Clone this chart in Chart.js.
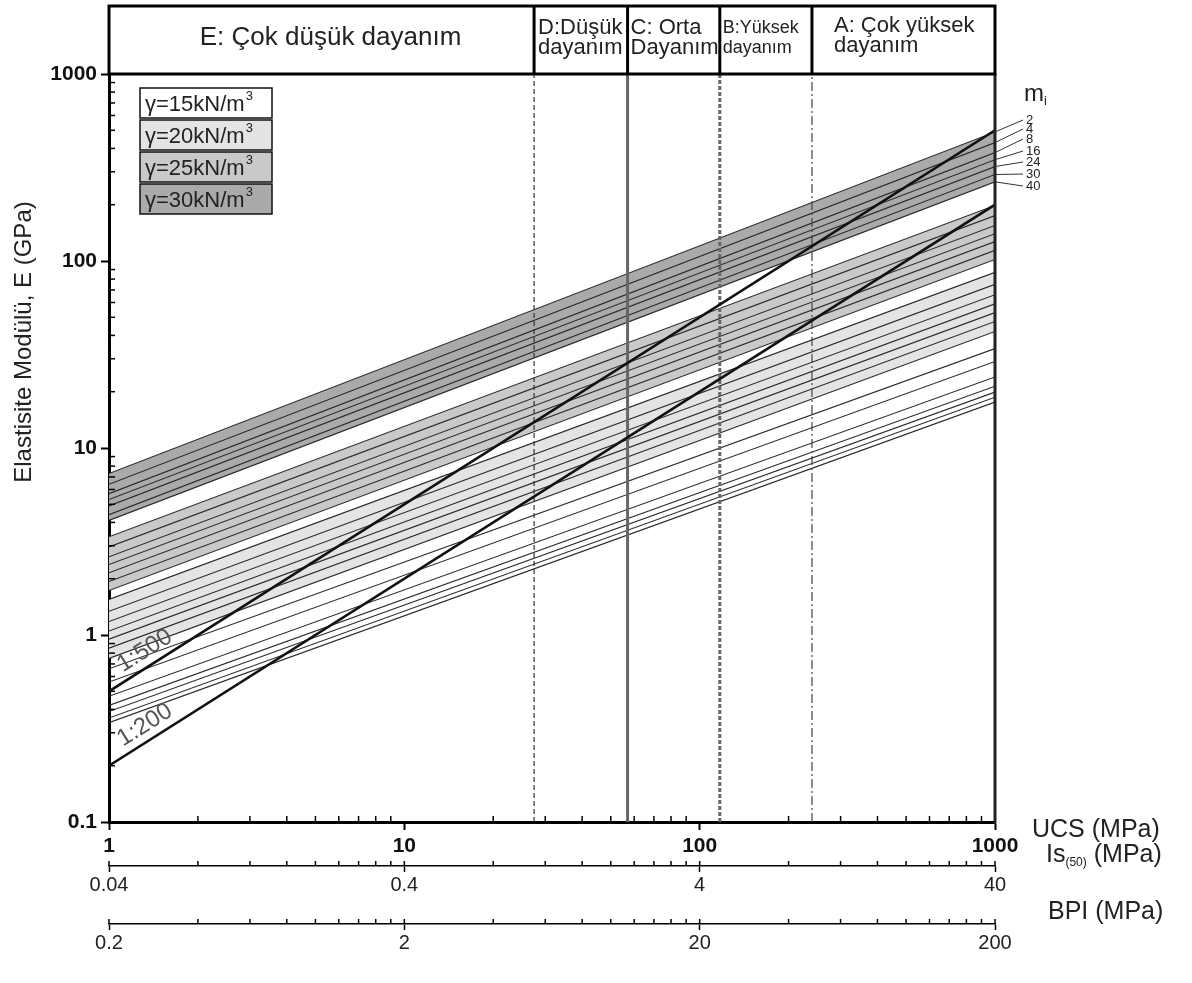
<!DOCTYPE html>
<html>
<head>
<meta charset="utf-8">
<script src="https://cdn.jsdelivr.net/npm/chart.js@4.4.1/dist/chart.umd.min.js"></script>
<style>
  html, body { margin: 0; padding: 0; background: #fff; }
  canvas { display: block; }
</style>
</head>
<body>
<canvas id="chart" width="1192" height="983"></canvas>
<script>
const FONT = "'Liberation Sans', Arial, Helvetica, sans-serif";

// Rock material constant mi for each line of a band
const miValues = [2, 4, 8, 16, 24, 30, 40];
// UCS (MPa) at the two ends of every line
const ucsEnds = [1, 1000];
// Elastic modulus E (GPa) at UCS = 1 MPa and UCS = 1000 MPa, one value per mi
const e15Start = [0.66, 0.56, 0.47, 0.42, 0.39, 0.36, 0.34];
const e15End   = [34, 29, 24, 21.4, 19.9, 18.7, 17.6];
const e20Start = [1.55, 1.34, 1.18, 1.05, 0.95, 0.85, 0.75];
const e20End   = [87, 75, 66, 59, 53, 47.5, 42];
const e25Start = [3.35, 2.96, 2.62, 2.38, 2.15, 1.93, 1.73];
const e25End   = [198, 175, 155, 140, 127, 114, 102];
const e30Start = [7.3, 6.4, 5.7, 5.3, 4.9, 4.4, 4.1];
const e30End   = [490, 430, 380, 348, 320, 290, 265];
const unitWeights = [15, 20, 25, 30];
const bandFills = ['#ffffff', '#e4e4e4', '#c9c9c9', '#aaaaaa'];

// Modulus ratio lines, E (GPa) at UCS = 1 and 1000 MPa
const ratioNames = ['1:500', '1:200'];
const mr500 = [0.5, 500];
const mr200 = [0.2, 200];

// Strength class limits on UCS (MPa) and the class names above the plot
const classBounds = [27.5, 57, 117, 240];
const classNames = [
  ['E: Çok düşük dayanım'],
  ['D:Düşük', 'dayanım'],
  ['C: Orta', 'Dayanım'],
  ['B:Yüksek', 'dayanım'],
  ['A: Çok yüksek', 'dayanım']
];

// Labelled ticks of each axis
const yTickLabels   = ['0.1', '1', '10', '100', '1000'];
const ucsTickLabels = ['1', '10', '100', '1000'];
const isTickLabels  = ['0.04', '0.4', '4', '40'];
const bpiTickLabels = ['0.2', '2', '20', '200'];

const bands = [[e15Start, e15End], [e20Start, e20End], [e25Start, e25End], [e30Start, e30End]];

function labelFor(v, labels) {
  for (const l of labels) {
    if (Math.abs(Math.log10(v) - Math.log10(parseFloat(l))) < 1e-6) return l;
  }
  return '';
}
// 1..9 tick marks for every decade, starting at the first labelled value
function decadeTicks(labels) {
  const out = [];
  const first = parseFloat(labels[0]);
  for (let d = 0; d < labels.length - 1; d++) {
    const base = first * Math.pow(10, d);
    for (let k = 1; k <= 9; k++) out.push(base * k);
  }
  out.push(parseFloat(labels[labels.length - 1]));
  return out;
}

const datasets = [];
// thick ratio lines on top
[mr500, mr200].forEach((r, i) => {
  datasets.push({
    label: ratioNames[i],
    data: [{ x: ucsEnds[0], y: r[0] }, { x: ucsEnds[1], y: r[1] }],
    borderColor: '#111', borderWidth: 2.6, pointRadius: 0, fill: false
  });
});
// strength class limits
const classStyles = [
  { w: 1.2, dash: [5, 3], c: '#333' },
  { w: 3, dash: [], c: '#666' },
  { w: 3, dash: [4, 2], c: '#666' },
  { w: 1.2, dash: [9, 3, 2, 3], c: '#444' }
];
classBounds.forEach((b, i) => {
  datasets.push({
    label: 'class ' + b,
    data: [{ x: b, y: 0.1 }, { x: b, y: 1000 }],
    borderColor: classStyles[i].c, borderWidth: classStyles[i].w,
    borderDash: classStyles[i].dash, pointRadius: 0, fill: false
  });
});
// unit weight bands, one line per mi
bands.forEach((b, bi) => {
  miValues.forEach((mi, k) => {
    const filled = k === 0 && bi > 0;
    datasets.push({
      label: 'γ=' + unitWeights[bi] + ' mi=' + mi,
      data: [{ x: ucsEnds[0], y: b[0][k] }, { x: ucsEnds[1], y: b[1][k] }],
      borderColor: '#2a2a2a', borderWidth: 1.1, pointRadius: 0,
      fill: filled ? '+' + (miValues.length - 1) : false,
      backgroundColor: bandFills[bi]
    });
  });
});

function tickColorFor(labels) {
  return c => (c.tick && labelFor(c.tick.value, labels)) ? '#000' : 'rgba(0,0,0,0)';
}

const bottomAxis = (labels, weight, height) => ({
  type: 'logarithmic',
  axis: 'x',
  position: 'bottom',
  weight: weight,
  min: parseFloat(labels[0]),
  max: parseFloat(labels[labels.length - 1]),
  afterBuildTicks: s => { s.ticks = decadeTicks(labels).map(v => ({ value: v })); },
  afterFit: s => { s.height = height; },
  border: { width: 1.5, color: '#000' },
  grid: { drawOnChartArea: false, tickLength: 6, tickWidth: 1.5, tickColor: tickColorFor(labels) },
  ticks: {
    autoSkip: false, maxRotation: 0, padding: 1, color: '#222',
    font: { family: FONT, size: 20 },
    callback: v => labelFor(v, labels)
  }
});

function line(ctx, x1, y1, x2, y2) {
  ctx.beginPath(); ctx.moveTo(x1, y1); ctx.lineTo(x2, y2); ctx.stroke();
}

// inward minor ticks on the plot axes and upward ticks on the Is(50) / BPI scales
const tickMarks = {
  id: 'tickMarks',
  afterDraw(chart) {
    const { ctx, chartArea: a, scales } = chart;
    ctx.save();
    ctx.strokeStyle = '#000';
    ctx.lineWidth = 1.5;
    scales.y.ticks.forEach(t => {
      if (labelFor(t.value, yTickLabels)) return;
      const py = scales.y.getPixelForValue(t.value);
      line(ctx, a.left, py, a.left + 6, py);
    });
    scales.x.ticks.forEach(t => {
      if (labelFor(t.value, ucsTickLabels)) return;
      const px = scales.x.getPixelForValue(t.value);
      line(ctx, px, a.bottom, px, a.bottom - 6);
    });
    ['is', 'bpi'].forEach(id => {
      const s = scales[id];
      s.ticks.forEach(t => {
        const px = s.getPixelForValue(t.value);
        line(ctx, px, s.top, px, s.top - 5);
      });
    });
    // plot frame: right side
    ctx.lineWidth = 3;
    ctx.strokeStyle = '#222';
    line(ctx, a.right, a.top, a.right, a.bottom + 1.5);
    ctx.restore();
  }
};

// class header above the plot
const classHeader = {
  id: 'classHeader',
  afterDraw(chart) {
    const { ctx, chartArea: a, scales } = chart;
    const top = 6;
    const xs = [a.left].concat(classBounds.map(b => scales.x.getPixelForValue(b)), [a.right]);
    ctx.save();
    ctx.strokeStyle = '#000';
    ctx.lineWidth = 3;
    ctx.strokeRect(a.left, top, a.right - a.left, a.top - top);
    for (let i = 1; i < xs.length - 1; i++) line(ctx, xs[i], top, xs[i], a.top);
    ctx.fillStyle = '#222';
    ctx.textBaseline = 'middle';
    ctx.font = '26px ' + FONT;
    ctx.textAlign = 'center';
    ctx.fillText(classNames[0][0], (xs[0] + xs[1]) / 2 + 9, 38);
    ctx.textAlign = 'left';
    const sizes = [22, 22, 18, 22];
    const offs = [4, 3, 3, 22];
    const rows = [[28, 48], [28, 48], [28, 48], [26, 46]];
    for (let i = 1; i < classNames.length; i++) {
      ctx.font = sizes[i - 1] + 'px ' + FONT;
      classNames[i].forEach((t, j) => ctx.fillText(t, xs[i] + offs[i - 1], rows[i - 1][j]));
    }
    ctx.restore();
  }
};

// unit weight key, ratio labels, mi labels and axis names
const annotations = {
  id: 'annotations',
  afterDraw(chart) {
    const { ctx, chartArea: a, scales } = chart;
    const X = scales.x, Y = scales.y;
    ctx.save();
    // unit weight key
    unitWeights.forEach((g, i) => {
      const bx = 140, by = 88 + i * 32, bw = 132, bh = 30;
      ctx.fillStyle = bandFills[i];
      ctx.fillRect(bx, by, bw, bh);
      ctx.strokeStyle = '#111';
      ctx.lineWidth = 1.5;
      ctx.strokeRect(bx, by, bw, bh);
      ctx.fillStyle = '#222';
      ctx.textBaseline = 'middle';
      ctx.textAlign = 'left';
      ctx.font = '22px ' + FONT;
      const t = 'γ=' + g + 'kN/m';
      ctx.fillText(t, bx + 5, by + bh / 2 + 2);
      const w = ctx.measureText(t).width;
      ctx.font = '13px ' + FONT;
      ctx.fillText('3', bx + 5 + w + 1, by + 8);
    });
    // ratio labels along their lines
    [mr500, mr200].forEach((r, i) => {
      const p0x = X.getPixelForValue(ucsEnds[0]), p0y = Y.getPixelForValue(r[0]);
      const p1x = X.getPixelForValue(ucsEnds[1]), p1y = Y.getPixelForValue(r[1]);
      const ang = Math.atan2(p1y - p0y, p1x - p0x);
      ctx.save();
      ctx.translate(p0x + 22 * Math.cos(ang), p0y + 22 * Math.sin(ang));
      ctx.rotate(ang);
      ctx.fillStyle = '#555';
      ctx.font = '24px ' + FONT;
      ctx.textAlign = 'left';
      ctx.textBaseline = 'bottom';
      ctx.fillText(ratioNames[i], 0, -3);
      ctx.restore();
    });
    // mi labels with leaders from the γ=30 lines
    ctx.fillStyle = '#222';
    ctx.font = '24px ' + FONT;
    ctx.textAlign = 'left';
    ctx.textBaseline = 'middle';
    ctx.fillText('m', 1024, 94);
    ctx.font = '13px ' + FONT;
    ctx.fillText('i', 1044, 101);
    const labelY = [120, 129, 139, 151, 162, 174, 186];
    ctx.strokeStyle = '#333';
    ctx.lineWidth = 1;
    ctx.font = '13px ' + FONT;
    miValues.forEach((mi, k) => {
      const ey = Y.getPixelForValue(e30End[k]);
      line(ctx, a.right, ey, 1023, labelY[k]);
      ctx.fillText(String(mi), 1026, labelY[k]);
    });
    // axis names
    ctx.fillStyle = '#222';
    ctx.font = '25px ' + FONT;
    ctx.fillText('UCS (MPa)', 1032, 830);
    const isTop = scales.is.top, bpiTop = scales.bpi.top;
    ctx.fillText('Is', 1046, isTop - 11);
    const w = ctx.measureText('Is').width;
    ctx.font = '12px ' + FONT;
    ctx.fillText('(50)', 1046 + w, isTop - 3);
    const w2 = ctx.measureText('(50)').width;
    ctx.font = '25px ' + FONT;
    ctx.fillText(' (MPa)', 1046 + w + w2, isTop - 11);
    ctx.fillText('BPI (MPa)', 1048, bpiTop - 12);
    // y axis title
    ctx.save();
    ctx.translate(24, 342);
    ctx.rotate(-Math.PI / 2);
    ctx.textAlign = 'center';
    ctx.font = '24px ' + FONT;
    ctx.fillText('Elastisite Modülü, E (GPa)', 0, 0);
    ctx.restore();
    ctx.restore();
  }
};

new Chart(document.getElementById('chart'), {
  type: 'line',
  data: { datasets },
  options: {
    responsive: false,
    animation: false,
    devicePixelRatio: 1,
    layout: { padding: { top: 74, right: 197, left: 0, bottom: 0 } },
    plugins: {
      legend: { display: false },
      tooltip: { enabled: false },
      filler: { drawTime: 'beforeDatasetsDraw' }
    },
    elements: { line: { tension: 0 } },
    scales: {
      x: {
        type: 'logarithmic', position: 'bottom', weight: 0, min: 1, max: 1000,
        afterBuildTicks: s => { s.ticks = decadeTicks(ucsTickLabels).map(v => ({ value: v })); },
        afterFit: s => { s.height = 44; },
        border: { width: 3, color: '#000' },
        grid: { drawOnChartArea: false, tickLength: 8, tickWidth: 2, tickColor: tickColorFor(ucsTickLabels) },
        ticks: {
          autoSkip: false, maxRotation: 0, padding: 4, color: '#111',
          font: { family: FONT, size: 21, weight: 'bold' },
          callback: v => labelFor(v, ucsTickLabels)
        }
      },
      is: bottomAxis(isTickLabels, 1, 58),
      bpi: bottomAxis(bpiTickLabels, 2, 59),
      y: {
        type: 'logarithmic', position: 'left', min: 0.1, max: 1000,
        afterBuildTicks: s => { s.ticks = decadeTicks(yTickLabels).map(v => ({ value: v })); },
        afterFit: s => { s.width = 109; },
        border: { width: 3, color: '#000' },
        grid: { drawOnChartArea: false, tickLength: 8, tickWidth: 2, tickColor: tickColorFor(yTickLabels) },
        ticks: {
          autoSkip: false, padding: 4, color: '#111',
          font: { family: FONT, size: 21, weight: 'bold' },
          callback: v => labelFor(v, yTickLabels)
        }
      }
    }
  },
  plugins: [tickMarks, classHeader, annotations]
});
</script>
</body>
</html>
